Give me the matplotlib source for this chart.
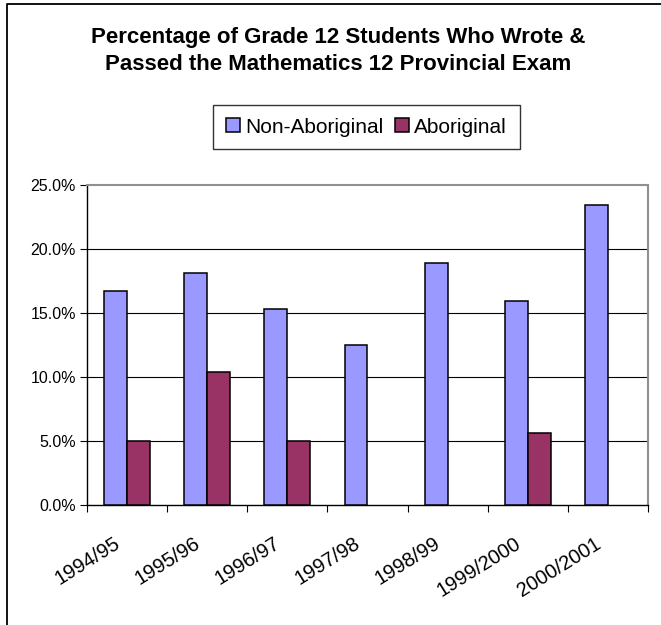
import matplotlib
matplotlib.use("Agg")
import matplotlib.pyplot as plt
import numpy as np
from matplotlib.transforms import ScaledTranslation
from matplotlib.lines import Line2D

categories = ["1994/95", "1995/96", "1996/97", "1997/98", "1998/99", "1999/2000", "2000/2001"]
non_aboriginal = [16.7, 18.1, 15.3, 12.5, 18.9, 15.9, 23.4]
aboriginal = [5.0, 10.4, 5.0, None, None, 5.6, None]
y_ticks = [0, 5, 10, 15, 20, 25]
title = "Percentage of Grade 12 Students Who Wrote &\nPassed the Mathematics 12 Provincial Exam"

plt.rcParams['font.family'] = ['Liberation Sans', 'DejaVu Sans']

W, H = 661, 625
fig = plt.figure(figsize=(W / 100, H / 100), dpi=100)
ax = fig.add_axes([87 / W, 1 - 505 / H, (648 - 87) / W, (505 - 185) / H])

x = np.arange(len(categories))
bw = 2 / 7
ax.bar(x - bw / 2, non_aboriginal, bw, color="#9999FF", edgecolor="black",
       linewidth=1.1, label="Non-Aboriginal", zorder=3)
ab_vals = np.array([np.nan if v is None else v for v in aboriginal], dtype=float)
ax.bar(x + bw / 2, ab_vals, bw, color="#993366", edgecolor="black",
       linewidth=1.1, label="Aboriginal", zorder=3)

ax.set_xlim(-0.5, len(categories) - 0.5)
ax.set_ylim(0, 25)
ax.set_yticks(y_ticks)
ax.set_yticklabels([f"{v:.1f}%" for v in y_ticks], fontsize=11.5)
for v in y_ticks[1:-1]:
    ax.axhline(v, color="black", linewidth=0.8, zorder=1)

ax.set_xticks(x)
ax.set_xticklabels(categories, fontsize=14.5, rotation=32, ha="right",
                   va="center", rotation_mode="anchor")
ax.set_xticks(np.arange(-0.5, len(categories)), minor=True)
ax.tick_params(axis="x", which="major", length=0, pad=26.5)
ax.tick_params(axis="x", which="minor", length=5, width=0.8, direction="out")
ax.tick_params(axis="y", length=5, width=0.8, direction="out", pad=3)
off = ScaledTranslation(-9 / 100, 0, fig.dpi_scale_trans)
for lab in ax.get_xticklabels():
    lab.set_transform(lab.get_transform() + off)

for s in ["left", "bottom"]:
    ax.spines[s].set_color("black")
    ax.spines[s].set_linewidth(1.0)
for s in ["top", "right"]:
    ax.spines[s].set_color("#909090")
    ax.spines[s].set_linewidth(1.5)

fig.text(338 / W, 1 - 51 / H, title, ha="center", va="center",
         fontsize=16, fontweight="bold", linespacing=1.4)

leg = fig.legend(loc="center", bbox_to_anchor=(366.5 / W, 1 - 127 / H), ncol=2,
                 fontsize=15, frameon=True, fancybox=False, shadow=False,
                 edgecolor="black", handlelength=0.68, handleheight=0.68,
                 handletextpad=0.25, columnspacing=0.55, borderpad=0.6,
                 borderaxespad=0)
leg.get_frame().set_linewidth(1.0)

fig.add_artist(Line2D([6.5 / W, 6.5 / W, 1.0], [0.0, 1 - 3.5 / H, 1 - 3.5 / H],
                      transform=fig.transFigure, color="black", linewidth=1.3))

fig.savefig("out.png", dpi=100)
